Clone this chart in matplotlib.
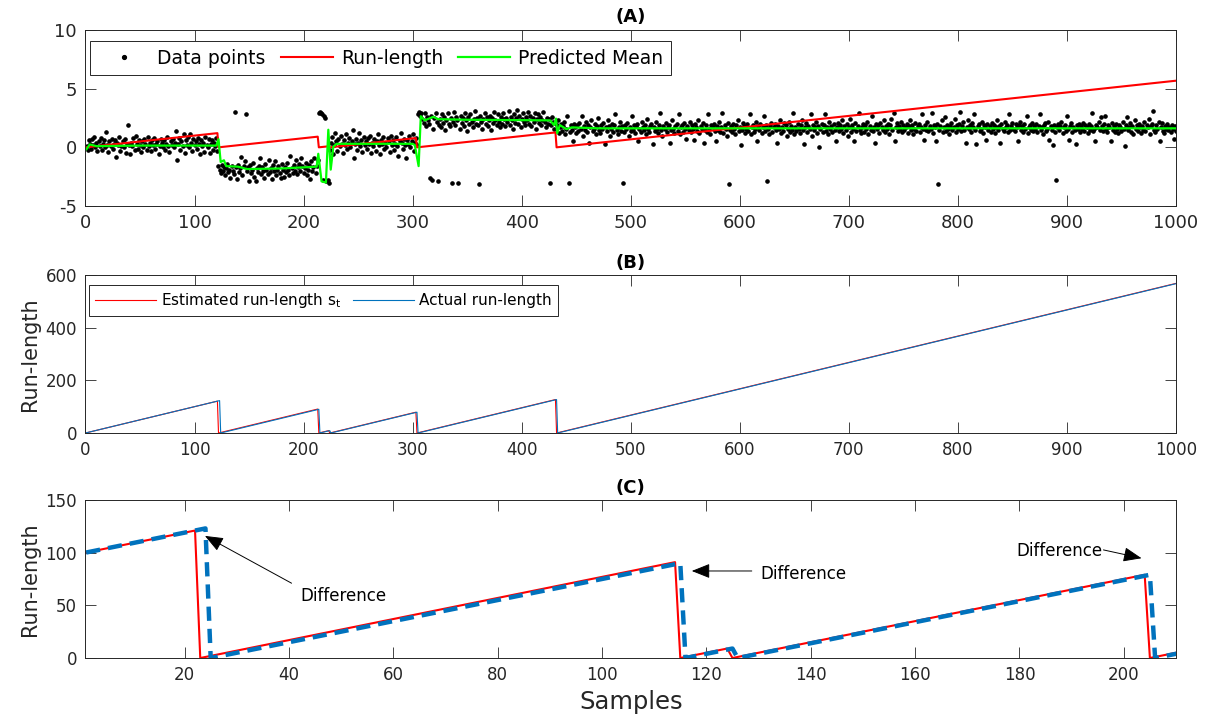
import numpy as np
import matplotlib.pyplot as plt

plt.rcParams['axes.unicode_minus'] = False

# observations, one per sample (1..1000), split at the change points
seg1 = [0.1, -0.2, 0.6, 0.3, -0.1, 0.7, 0.2, 0.9, 0.0, 0.4, -0.3, 0.5, 0.1, 0.8, -0.2, 0.3, 0.6, 0.0, 1.3, 0.2,
        -0.4, 0.5, 0.1, 0.7, -0.1, 0.3, 0.6, -0.8, 0.4, 0.2, 0.9, -0.3, 0.1, 0.5, 0.0, 0.7, -0.5, 0.3, 1.9, 0.2,
        -0.6, 0.4, 0.1, 0.8, -0.2, 1.0, 0.3, -0.1, 0.6, 0.2, -0.4, 0.5, 0.0, 0.7, 0.3, -0.2, 0.9, 0.1, 0.4, -0.3,
        0.6, 0.2, 0.8, -0.1, 0.3, 0.5, -0.6, 0.1, 0.7, 0.4, 0.0, 0.6, -0.2, 0.3, 0.9, 0.1, -0.4, 0.5, 0.2, 0.7,
        0.0, 0.4, 1.4, -1.1, 0.3, 0.8, -0.2, 0.5, 0.1, 1.1, -0.5, 0.6, 0.2, 0.9, 0.0, 1.1, 0.4, -0.3, 0.7, 0.2,
        0.5, -0.1, 0.8, 0.3, -0.6, 0.6, 0.1, 0.4, -0.4, 0.9, 0.2, 0.0, 0.7, -0.5, 0.3, 0.6, -0.2, 0.4, 0.1, 0.8, -0.3]
seg2 = [-1.6, -1.9, -2.2, -1.5, -2.0, -1.7, -2.4, -1.8, -1.4, -2.1, -1.9, -2.6, -1.6, -2.0, -2.3, 3.0, -1.7, -2.7, -1.5, -2.1,
        -1.8, -0.8, -2.4, -1.6, -1.2, 2.8, -2.0, -1.7, -2.9, -1.5, -2.2, -1.9, -1.3, -2.5, -2.9, -1.8, -2.1, -1.6, -0.9, -2.3,
        -1.7, -2.0, -2.6, -1.4, -1.9, -2.3, -1.1, -2.1, -1.8, -2.7, -1.5, -2.0, -1.2, -2.4, -1.9, -1.6, -2.2, -2.6, -1.4, -1.9,
        -2.5, -1.7, -2.1, -1.3, -1.9, -2.4, -0.7, -1.8, -2.2, -1.5, -2.0, -1.1, -2.3, -1.7, -1.4, -2.0, -0.9, -1.6, -2.2, -1.8,
        -1.3, -2.4, -1.9, -1.5, -2.7, -1.2, -2.0, -1.7, -0.9, -2.2, -1.6, -1.1]
seg3 = [2.9, 3.0, 2.9, 2.8, -2.8, 2.7, 2.5, -2.9, -2.8, -3.0]
seg4 = [-0.2, 0.4, 0.9, -0.6, 0.2, 1.2, 0.5, -0.3, 0.7, 0.1, 1.0, 0.3, -0.5, 0.6, 0.2, 1.1, -0.1, 0.4, 0.8, 0.0,
        0.5, 1.5, -0.9, 0.3, 0.7, -0.2, 0.4, 1.2, 0.1, 0.6, -0.4, 0.9, 0.2, 0.5, -0.1, 0.8, 0.3, 1.0, -0.5, 0.4,
        0.1, 0.7, -0.3, 0.5, 1.1, 0.2, -0.6, 0.6, 0.3, 0.9, -0.1, 0.4, 0.0, 0.8, 0.5, -0.4, 1.0, 0.2, 0.6, -0.2,
        0.3, 0.9, 0.1, -0.7, 0.5, 1.2, 0.4, -0.1, 0.7, 0.2, -0.9, 0.6, 0.3, 1.0, 0.0, 0.5, 1.1, -0.3, 0.4, 0.8,
        0.2]
seg5 = [2.8, 3.0, 2.7, 2.9, 2.4, 2.1, 2.9, 1.8, 2.6, 2.3, 2.0, -2.6, 2.7, -2.8, 1.6, 2.5, 2.9, 2.2, -2.9, 1.9,
        2.4, 1.7, 2.8, 2.1, 2.6, 1.5, 2.3, 2.9, 2.0, 1.8, 2.5, -3.0, 2.2, 3.0, 1.9, 2.6, 2.3, -3.0, 1.6, 2.7,
        2.1, 2.5, 1.8, 2.9, 2.3, 1.4, 2.6, 2.0, 2.8, 2.2, 1.7, 2.4, 3.1, 2.0, 2.5, 1.9, -3.1, 2.7, 2.2, 1.6,
        2.4, 2.9, 2.0, 2.6, 1.8, 2.3, 2.7, 1.5, 2.5, 2.1, 3.0, 2.3, 1.9, 2.8, 2.2, 1.7, 2.6, 2.0, 2.9, 2.4,
        1.8, 2.5, 2.2, 3.1, 1.9, 2.6, 2.3, 1.6, 2.8, 2.1, 2.5, 3.2, 2.0, 2.7, 1.7, 2.4, 2.9, 2.2, 1.9, 2.6,
        2.3, 3.0, 2.0, 2.7, 1.8, 2.5, 2.2, 2.9, 1.6, 2.4, 2.8, 2.1, 2.6, 1.9, 2.3, 3.0, 2.2, 1.7, 2.5, 2.0,
        2.4, -3.0, 1.9, 2.6, 2.2, 1.6, 2.1]
seg6 = [1.9, 2.3, 1.2, 1.7, 2.0, 1.4, 1.8, 2.2, 1.1, 1.6, 2.7, -3.0, 1.3, 1.9, 1.5, 0.5, 2.0, 1.7, 1.2, 1.9,
        1.4, 2.1, 1.6, 2.7, 1.0, 1.8, 1.5, 2.2, 1.3, 1.9, 0.4, 1.7, 2.3, 1.4, 1.6, 2.0, 1.1, 1.8, 2.5, 1.5,
        1.2, 1.9, 1.6, 2.1, 0.3, 1.7, 1.4, 2.3, 1.8, 1.0, 1.6, 2.0, 1.3, 1.9, 2.8, 1.5, 1.1, 1.7, 2.2, 1.4,
        1.8, -3.0, 1.3, 1.9, 1.6, 2.1, 1.0, 1.7, 1.4, 2.7, 1.5, 1.9, 1.2, 1.8, 2.0, 0.5, 1.6, 1.3, 2.2, 1.7,
        1.5, 1.9, 1.1, 2.4, 1.6, 1.3, 1.8, 2.0, 0.3, 1.7, 1.4, 2.2, 1.6, 1.2, 1.9, 2.9, 1.5, 1.0, 1.8, 1.6,
        2.1, 1.3, 1.7, 1.9, 0.4, 1.5, 2.3, 1.6, 1.2, 1.8, 2.0, 1.4, 2.8, 1.1, 1.7, 1.9, 1.3, 2.1, 1.6, 0.7,
        1.8, 1.5, 2.2, 1.3, 1.9, 1.6, 0.6, 2.0, 1.7, 1.4, 2.3, 1.2, 1.8, 1.6, 2.1, 0.4, 1.5, 1.9, 1.3, 2.8,
        1.6, 1.1, 1.9, 1.7, 2.0, 1.4, 0.5, 1.8, 1.5, 2.2, 1.3, 1.7, 2.9, 1.2, 1.9, 1.6, 1.0, 2.1, -3.1, 1.5,
        1.8, 1.3, 2.0, 1.6, 1.1, 1.9, 2.3, 1.4, 1.7, 0.2, 1.5, 2.1, 1.8, 1.2, 1.6, 2.0, 1.4, 2.8, 1.1, 1.7,
        1.9, 1.3, 1.6, 2.2, 0.5, 1.8, 1.5, 2.0, 1.2, 1.7, 2.7, 1.4, 1.9, -2.9, 1.6, 1.1, 1.8, 2.1, 1.3, 1.7,
        2.0, 1.5, 0.4, 1.8, 1.6, 2.3, 1.2, 1.7, 1.4, 2.1, 1.9, 1.0, 1.6, 2.2, 1.3, 1.8, 1.5, 2.9, 1.1, 1.7,
        1.4, 2.0, 1.6, 1.2, 1.9, 2.3, 1.5, 0.3, 1.7, 2.1, 1.3, 1.8, 1.6, 2.8, 1.0, 1.9, 1.5, 1.7, 2.2, 1.2,
        1.8, 0.0, 1.6, 2.0, 1.3, 1.9, 2.8, 1.4, 1.7, 1.1, 2.2, 1.6, 1.8, 1.3, 2.0, 1.5, 0.5, 1.7, 2.1, 1.4,
        1.9, 1.6, 2.3, 1.2, 1.8, 1.5, 2.0, 1.0, 1.7, 2.4, 1.3, 1.9, 1.6, 0.5, 2.1, 1.4, 1.8, 2.9, 1.5, 1.2,
        1.7, 2.0, 1.3, 1.9, 1.6, 2.2, 1.1, 1.8, 1.5, 2.7, 1.4, 1.7, 0.4, 2.0, 1.6, 1.9, 1.2, 2.1, 1.7, 1.5,
        2.3, 1.3, 1.8, 1.6, 2.0, 1.1, 1.9, 2.4, 1.5, 2.9, 0.5, 1.7, 2.1, 1.4, 1.8, 1.6, 2.2, 1.3, 1.9, 1.5,
        1.7, 2.0, 1.2, 1.8, 2.3, 1.5, 1.9, 1.1, 1.6, 2.1, 1.4, 1.8, 2.0, 1.3, 1.7, 2.8, 1.6, 0.6, 1.9, 1.5,
        2.2, 1.4, 1.8, 1.6, 2.9, 1.2, 1.9, 1.7, 0.5, 2.0, -3.1, 1.5, 1.8, 2.3, 1.3, 1.7, 2.6, 1.4, 1.9, 1.6,
        1.1, 1.8, 2.1, 1.5, 1.7, 2.4, 1.3, 1.9, 1.6, 2.0, 3.0, 1.4, 1.8, 2.2, 1.5, 0.4, 1.7, 2.3, 1.6, 1.9,
        1.3, 2.1, 1.7, 2.8, 1.5, 0.3, 1.8, 2.0, 1.4, 1.6, 2.2, 1.2, 1.9, 1.7, 0.6, 2.0, 1.5, 1.8, 1.3, 2.1,
        1.6, 1.9, 1.2, 1.7, 2.3, 1.5, 1.8, 0.4, 2.0, 1.6, 1.4, 2.2, 1.7, 1.9, 1.3, 2.8, 1.5, 1.8, 2.1, 1.6,
        1.4, 2.0, 1.7, 0.5, 1.9, 2.2, 1.5, 1.8, 1.3, 2.0, 1.6, 2.7, 1.2, 1.7, 1.9, 1.5, 2.1, 1.4, 1.8, 1.6,
        2.0, 1.3, 1.8, 2.8, 1.5, 1.7, 1.1, 1.9, 2.1, 1.4, 1.6, 2.2, 0.6, 1.8, 1.5, 0.2, 1.9, 1.3, -2.8, 1.7,
        2.0, 1.5, 1.8, 2.2, 1.2, 1.7, 1.9, 1.4, 2.7, 1.6, 0.6, 1.8, 2.1, 1.3, 1.7, 1.5, 0.3, 1.9, 1.6, 2.0,
        1.3, 1.8, 1.6, 2.1, 1.4, 1.9, 1.7, 1.2, 2.0, 1.5, 1.8, 2.9, 1.4, 1.6, 0.5, 1.9, 1.7, 2.2, 1.5, 2.6,
        1.8, 1.4, 2.0, 2.7, 1.6, 1.3, 1.9, 1.7, 0.5, 2.1, 1.5, 1.8, 1.3, 2.0, 1.6, 1.2, 1.9, 1.7, 1.4, 2.2,
        1.6, 0.1, 1.9, 2.6, 1.5, 1.7, 2.1, 1.3, 1.8, 1.1, 2.3, 1.6, 1.9, 1.4, 2.0, 1.7, 1.2, 1.8, 1.5, 2.2,
        1.4, 1.9, 1.7, 2.4, 1.1, 1.8, 2.0, 3.1, 1.5, 1.3, 1.9, 1.6, 2.2, 0.5, 1.7, 2.1, 1.4, 1.2, 1.8, 1.6,
        2.0, 1.5, 1.7, 1.3, 1.9, 1.6, 0.7, 1.8, 1.4]
data = np.array(seg1 + seg2 + seg3 + seg4 + seg5 + seg6)
samples = np.arange(1, len(data) + 1)

# predicted mean (vertices of the filter output)
mean_x = [1, 4, 10, 50, 120, 122, 124, 127, 129, 140, 148, 180, 212, 213.5, 216.5, 220.5, 222.7, 224.9,
          227.3, 230.3, 260, 300, 302, 305.5, 307.5, 311, 319, 323.5, 350, 426, 429.6, 431.5, 432.6, 435,
          441, 446, 470, 600, 800, 1000]
mean_y = [-0.15, 0.25, 0.1, 0.15, 0.15, 0.7, -1.25, -1.1, -1.6, -1.65, -1.85, -1.8, -1.65, -0.55, -2.9,
          -3.0, 1.5, -1.9, 0.05, 0.3, 0.3, 0.3, 0.2, -1.6, 2.65, 2.3, 2.6, 2.4, 2.35, 2.3, 1.9, 2.45, 1.2,
          1.9, 1.55, 1.7, 1.62, 1.62, 1.62, 1.62]

# run-length paths (vertices)
est_x = [0, 121, 122, 213, 214, 223, 224, 303, 304, 431, 432, 1000]
est_y = [0, 121, 0, 91, 0, 9, 0, 79, 0, 127, 0, 568]
act_x = [0, 123, 124, 214, 215, 224, 225, 304, 305, 432, 433, 1000]
act_y = [0, 123, 0, 90, 0, 9, 0, 79, 0, 127, 0, 567]
zoom_offset = 99   # panel (C) sample 1 == sample 100

RED = '#FF0000'
GREEN = '#00FF00'
BLUE = '#0072BD'
AXC = '#262626'


def style(ax, size):
    ax.tick_params(direction='in', length=7.8, width=0.6, top=True, right=True,
                   labelsize=size, colors=AXC, pad=6)
    for s in ax.spines.values():
        s.set_color(AXC)
        s.set_linewidth(0.7)


fig = plt.figure(figsize=(12.07, 7.2), dpi=100)
ax_a = fig.add_axes([0.0708, 0.7139, 0.9035, 0.2444])
ax_b = fig.add_axes([0.0708, 0.3986, 0.9035, 0.2195])
ax_c = fig.add_axes([0.0708, 0.0861, 0.9035, 0.2195])

# (A)
ax_a.plot(samples, data, '.', color='k', markersize=4.6, label='Data points')
ax_a.plot(est_x, np.array(est_y) / 100, color=RED, lw=1.5, label='Run-length')
ax_a.plot(mean_x, mean_y, color=GREEN, lw=1.6, label='Predicted Mean')
ax_a.set_xlim(0, 1000)
ax_a.set_ylim(-5, 10)
ax_a.set_xticks(range(0, 1001, 100))
ax_a.set_yticks([-5, 0, 5, 10])
style(ax_a, 13)
ax_a.set_title('(A)', fontweight='bold', fontsize=13, pad=6)
leg = ax_a.legend(loc='upper left', bbox_to_anchor=(0.004, 0.935), borderaxespad=0, ncol=3,
                  fontsize=13.5, fancybox=False, framealpha=1, edgecolor=AXC,
                  handlelength=2.8, handletextpad=0.4, columnspacing=0.8, markerscale=1.2)
leg.get_frame().set_linewidth(0.7)

# (B)
ax_b.plot(est_x, est_y, color=RED, lw=0.8, label='Estimated run-length s$\\mathregular{_t}$')
ax_b.plot(act_x, act_y, color=BLUE, lw=0.8, label='Actual run-length')
ax_b.set_xlim(0, 1000)
ax_b.set_ylim(0, 600)
ax_b.set_xticks(range(0, 1001, 100))
ax_b.set_yticks([0, 200, 400, 600])
style(ax_b, 12)
ax_b.set_title('(B)', fontweight='bold', fontsize=13, pad=5)
ax_b.set_ylabel('Run-length', fontsize=15, color=AXC)
leg = ax_b.legend(loc='upper left', bbox_to_anchor=(0.003, 0.937), borderaxespad=0, ncol=2,
                  fontsize=11, fancybox=False, framealpha=1, edgecolor=AXC,
                  handlelength=4.0, handletextpad=0.35, columnspacing=0.7)
leg.get_frame().set_linewidth(0.7)

# (C) close-up
ax_c.plot(np.array(est_x) - zoom_offset, est_y, color=RED, lw=1.5)
ax_c.plot(np.array(act_x) - zoom_offset, act_y, color=BLUE, lw=3.2, linestyle=(0, (3.2, 1.8)))
ax_c.set_xlim(1, 210)
ax_c.set_ylim(0, 150)
ax_c.set_xticks(range(20, 201, 20))
ax_c.set_yticks([0, 50, 100, 150])
style(ax_c, 12)
ax_c.set_title('(C)', fontweight='bold', fontsize=13, pad=5)
ax_c.set_ylabel('Run-length', fontsize=15, color=AXC)
ax_c.set_xlabel('Samples', fontsize=17.5, color=AXC, labelpad=4)

arrow = dict(arrowstyle='-|>,head_length=0.75,head_width=0.3', color='k', lw=0.7,
             mutation_scale=15, shrinkA=0, shrinkB=0)
notes = [((42.1, 58.5), (40.5, 71.0), (23.9, 115.9)),
         ((130.4, 79.5), (128.7, 82.6), (117.2, 82.6)),
         ((179.5, 101.9), (196.1, 102.6), (203.4, 94.7))]
for (tx, ty), tail, head in notes:
    ax_c.text(tx, ty, 'Difference', fontsize=12, va='center', ha='left', color='k')
    ax_c.annotate('', xy=head, xytext=tail, arrowprops=arrow)

fig.savefig('out.png', dpi=100)
